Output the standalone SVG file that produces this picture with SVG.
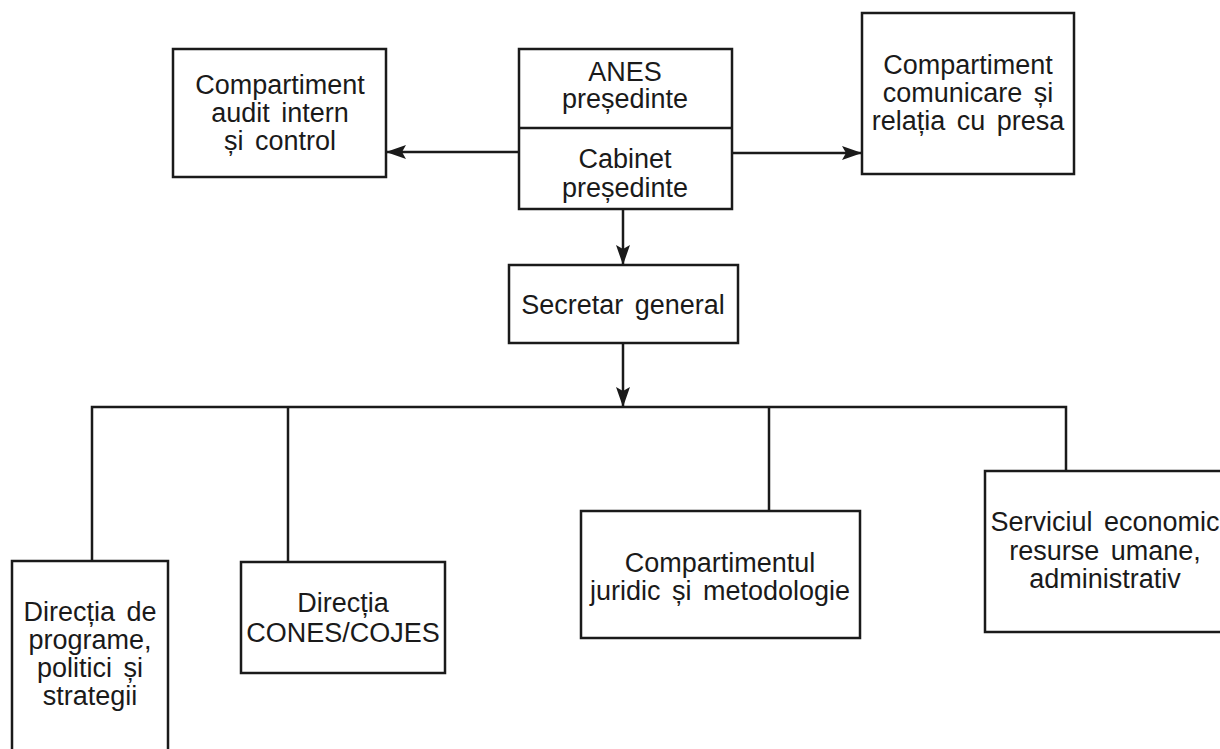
<svg xmlns="http://www.w3.org/2000/svg" width="1220" height="749" viewBox="0 0 1220 749">
<style>
.box{fill:#fff;stroke:#1a1a1a;stroke-width:2.5}
.ln{fill:none;stroke:#1a1a1a;stroke-width:2.5}
text{font-family:"Liberation Sans",Arial,sans-serif;font-size:27px;fill:#1a1a1a;text-anchor:middle;word-spacing:4px}
</style>
<defs>
<marker id="ah" markerWidth="20" markerHeight="14" refX="19" refY="7" orient="auto" markerUnits="userSpaceOnUse">
<path d="M0,0 L20,7 L0,14 L4,7 Z" fill="#1a1a1a"/>
</marker>
</defs>
<rect width="1220" height="749" fill="#fff"/>
<g id="connectors">
<line class="ln" x1="519" y1="152" x2="387" y2="152" marker-end="url(#ah)"/>
<line class="ln" x1="732" y1="153" x2="861" y2="153" marker-end="url(#ah)"/>
<line class="ln" x1="623" y1="209" x2="623" y2="264" marker-end="url(#ah)"/>
<line class="ln" x1="623" y1="343" x2="623" y2="406" marker-end="url(#ah)"/>
<polyline class="ln" points="92,561 92,407 1066,407 1066,471"/>
<line class="ln" x1="288" y1="407" x2="288" y2="562"/>
<line class="ln" x1="769" y1="407" x2="769" y2="511"/>
</g>
<g id="audit">
<rect class="box" x="173" y="49" width="213" height="128"/>
<text x="280" y="94">Compartiment</text>
<text x="280" y="122">audit intern</text>
<text x="280" y="150">și control</text>
</g>
<g id="anes">
<rect class="box" x="519" y="49" width="213" height="160"/>
<line class="ln" x1="519" y1="128" x2="732" y2="128"/>
<text x="625" y="81">ANES</text>
<text x="625" y="108">președinte</text>
<text x="625" y="168">Cabinet</text>
<text x="625" y="197">președinte</text>
</g>
<g id="comunicare">
<rect class="box" x="862" y="13" width="212" height="161"/>
<text x="968" y="74">Compartiment</text>
<text x="968" y="102">comunicare și</text>
<text x="968" y="130">relația cu presa</text>
</g>
<g id="secretar">
<rect class="box" x="509" y="265" width="229" height="78"/>
<text x="623" y="314">Secretar general</text>
</g>
<g id="directia-programe">
<rect class="box" x="12" y="561" width="156" height="200"/>
<text x="90" y="621">Direcția de</text>
<text x="90" y="649">programe,</text>
<text x="90" y="677">politici și</text>
<text x="90" y="705">strategii</text>
</g>
<g id="directia-cones">
<rect class="box" x="241" y="562" width="204" height="111"/>
<text x="343" y="612">Direcția</text>
<text x="343" y="642">CONES/COJES</text>
</g>
<g id="juridic">
<rect class="box" x="581" y="511" width="279" height="127"/>
<text x="720" y="572">Compartimentul</text>
<text x="720" y="600">juridic și metodologie</text>
</g>
<g id="serviciul">
<rect class="box" x="985" y="471" width="250" height="161"/>
<text x="1105" y="531">Serviciul economic</text>
<text x="1105" y="560">resurse umane,</text>
<text x="1105" y="588">administrativ</text>
</g>
</svg>
